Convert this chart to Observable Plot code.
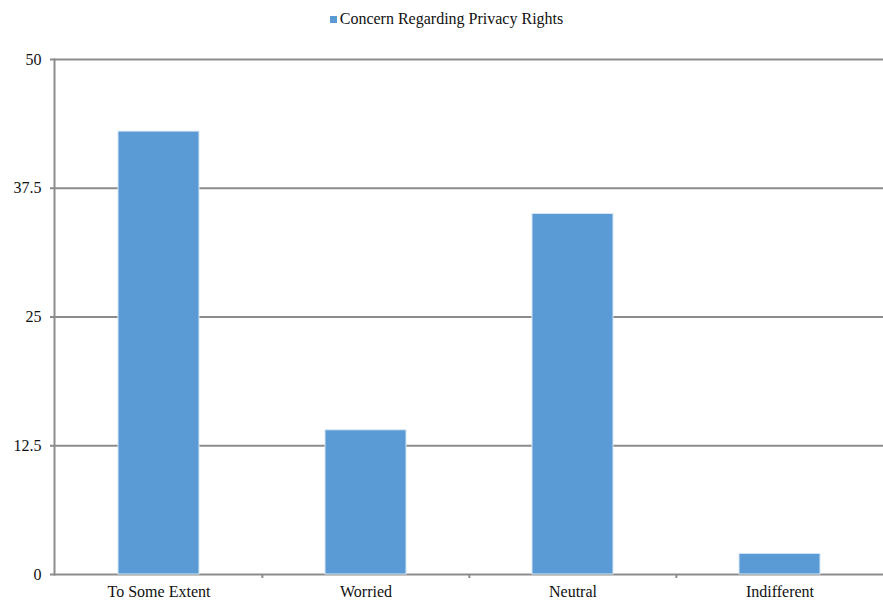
<!DOCTYPE html>
<html>
<head>
<meta charset="utf-8">
<script src="https://cdn.jsdelivr.net/npm/d3@7"></script>
<script src="https://cdn.jsdelivr.net/npm/@observablehq/plot@0.6"></script>
<style>
  html, body { margin: 0; padding: 0; background: #fff; }
  body { width: 883px; height: 601px; overflow: hidden; font-family: "Liberation Serif", "Times New Roman", serif; }
  #legend { height: 40px; display: flex; justify-content: center; align-items: flex-start; padding-left: 10px; box-sizing: border-box; }
  #legend .item { display: flex; align-items: center; margin-top: 10px; font-size: 16px; color: #111; }
  #legend .swatch { width: 7px; height: 7px; background: #5B9BD5; margin-right: 3px; }
  svg { display: block; }
</style>
</head>
<body>
<div id="legend"><div class="item"><div class="swatch"></div><span>Concern Regarding Privacy Rights</span></div></div>
<div id="chart"></div>
<script>
const seriesName = "Concern Regarding Privacy Rights";
const categories = ["To Some Extent", "Worried", "Neutral", "Indifferent"];
const values = [43, 14, 35, 2];
const yTicks = [0, 12.5, 25, 37.5, 50];

const data = categories.map((c, i) => ({category: c, value: values[i]}));

const width = 883;
const height = 561;
const margin = {top: 19, right: 0, bottom: 27, left: 54};
const xOpts = {domain: categories, range: [margin.left, width - margin.right], paddingInner: 0.61, paddingOuter: 0.305};
const step = Plot.scale({x: {type: "band", ...xOpts}}).step;

const chart = Plot.plot({
  width, height,
  marginTop: margin.top, marginRight: margin.right, marginBottom: margin.bottom, marginLeft: margin.left,
  style: {fontFamily: "'Liberation Serif', 'Times New Roman', serif", fontSize: "16px", color: "#111", background: "#fff", overflow: "visible"},
  x: {domain: categories, paddingInner: 0.61, paddingOuter: 0.305, label: null},
  y: {domain: [0, 50], label: null},
  marks: [
    Plot.gridY(yTicks, {stroke: "#8c8c8c", strokeOpacity: 1, strokeWidth: 2}),
    Plot.barY(data, {x: "category", y: "value", fill: "#5B9BD5", stroke: "#d6e6f6", strokeWidth: 1}),
    Plot.frame({anchor: "left", stroke: "#8c8c8c", strokeWidth: 2}),
    Plot.ruleX(categories.slice(1), {x: d => d, y1: 0, y2: 0, insetBottom: -4, dx: -step / 2, stroke: "#8c8c8c", strokeWidth: 2}),
    Plot.axisY(yTicks, {tickSize: 4, tickPadding: 9, stroke: "#8c8c8c", strokeWidth: 2, tickFormat: d => String(d), fontSize: 16}),
    Plot.axisX({tickSize: 0, tickPadding: 11, fontSize: 16})
  ]
});
document.getElementById("chart").appendChild(chart);
</script>
</body>
</html>
